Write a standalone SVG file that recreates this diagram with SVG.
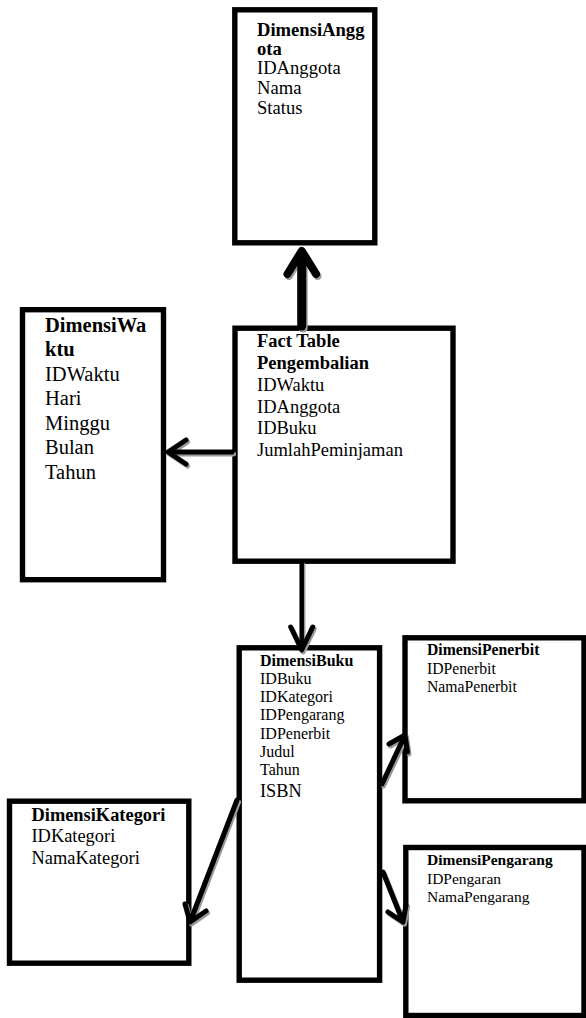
<svg xmlns="http://www.w3.org/2000/svg" xmlns:xlink="http://www.w3.org/1999/xlink" width="586" height="1018" viewBox="0 0 586 1018">
<style>
.box{fill:#fff;stroke:#000;stroke-width:5.4}
text{font-family:"Liberation Serif","Times New Roman",serif;fill:#000}
.h{font-weight:bold}
.ln{fill:none;stroke-linecap:round;stroke-linejoin:round}
.sh{stroke:#9a9a9a}
.bk{stroke:#000}
</style>
<defs>
<path id="c1s" d="M301.7,326 L301.7,253"/>
<path id="c1h" d="M287.5,274 L301.7,251 L316,274"/>
<path id="c2s" d="M232,452 L169,452"/>
<path id="c2h" d="M186,440 L168,452 L186,464"/>
<path id="c3s" d="M301.7,563 L301.7,649"/>
<path id="c3h" d="M290.7,627 L301.7,650 L312.7,627"/>
<path id="c4" d="M237,800 L190,922 M185,904 L190,922 L206,911"/>
<path id="c5" d="M382,784 L405,735 M389,744 L405,735 L407.5,752"/>
<path id="c6" d="M383,872 L403,922 M388,912 L403,922 L406,905"/>
</defs>
<rect width="586" height="1018" fill="#fff"/>

<g id="DimensiAnggota">
<rect class="box" x="234.8" y="9.8" width="140" height="233"/>
<text font-size="18.6"><tspan class="h" x="257" y="36">DimensiAngg</tspan><tspan class="h" x="257" y="55">ota</tspan><tspan x="257" y="74">IDAnggota</tspan><tspan x="257" y="94">Nama</tspan><tspan x="257" y="114">Status</tspan></text>
</g>

<g id="DimensiWaktu">
<rect class="box" x="22.5" y="309.7" width="141" height="270"/>
<text font-size="20.5"><tspan class="h" x="45" y="331.5">DimensiWa</tspan><tspan class="h" x="45" y="355.5">ktu</tspan><tspan x="45" y="380.5">IDWaktu</tspan><tspan x="45" y="405">Hari</tspan><tspan x="45" y="429.5">Minggu</tspan><tspan x="45" y="454">Bulan</tspan><tspan x="45" y="478.5">Tahun</tspan></text>
</g>

<g id="FactPengembalian">
<rect class="box" x="235" y="328.2" width="218" height="233"/>
<text font-size="18.5"><tspan class="h" x="257" y="347">Fact Table</tspan><tspan class="h" x="257" y="369">Pengembalian</tspan><tspan x="257" y="391">IDWaktu</tspan><tspan x="257" y="412.5">IDAnggota</tspan><tspan x="257" y="434">IDBuku</tspan><tspan x="257" y="456">JumlahPeminjaman</tspan></text>
</g>

<g id="DimensiBuku">
<rect class="box" x="239.2" y="647.8" width="140.4" height="332.4"/>
<text font-size="16"><tspan class="h" x="260" y="666">DimensiBuku</tspan><tspan x="260" y="684">IDBuku</tspan><tspan x="260" y="702">IDKategori</tspan><tspan x="260" y="720">IDPengarang</tspan><tspan x="260" y="738.5">IDPenerbit</tspan><tspan x="260" y="757">Judul</tspan><tspan x="260" y="775">Tahun</tspan><tspan x="260" y="796.5" font-size="18.3">ISBN</tspan></text>
</g>

<g id="DimensiKategori">
<rect class="box" x="9.5" y="801.2" width="179.3" height="162"/>
<text font-size="18.4"><tspan class="h" x="31.5" y="820.5">DimensiKategori</tspan><tspan x="31.5" y="842">IDKategori</tspan><tspan x="31.5" y="863.5">NamaKategori</tspan></text>
</g>

<g id="DimensiPenerbit">
<rect class="box" x="405" y="637.8" width="179" height="163"/>
<text font-size="15.7"><tspan class="h" x="427" y="655">DimensiPenerbit</tspan><tspan x="427" y="674">IDPenerbit</tspan><tspan x="427" y="692">NamaPenerbit</tspan></text>
</g>

<g id="DimensiPengarang">
<rect class="box" x="405.8" y="847.5" width="178.2" height="168"/>
<text font-size="15.5"><tspan class="h" x="427" y="864.5">DimensiPengarang</tspan><tspan x="427" y="883.5">IDPengaran</tspan><tspan x="427" y="902">NamaPengarang</tspan></text>
</g>

<g id="connectors">
<g class="ln sh" transform="translate(1.5,2)">
<use xlink:href="#c1s" stroke-width="9"/>
<use xlink:href="#c1h" stroke-width="8"/>
<use xlink:href="#c2s" stroke-width="5"/>
<use xlink:href="#c2h" stroke-width="5"/>
<use xlink:href="#c3s" stroke-width="4.5"/>
<use xlink:href="#c3h" stroke-width="5"/>
<use xlink:href="#c4" stroke-width="5"/>
<use xlink:href="#c5" stroke-width="5"/>
<use xlink:href="#c6" stroke-width="5"/>
</g>
<g class="ln bk">
<use xlink:href="#c1s" stroke-width="9"/>
<use xlink:href="#c1h" stroke-width="8"/>
<use xlink:href="#c2s" stroke-width="5"/>
<use xlink:href="#c2h" stroke-width="5"/>
<use xlink:href="#c3s" stroke-width="4.5"/>
<use xlink:href="#c3h" stroke-width="5"/>
<use xlink:href="#c4" stroke-width="5"/>
<use xlink:href="#c5" stroke-width="5"/>
<use xlink:href="#c6" stroke-width="5"/>
</g>
</g>
</svg>
